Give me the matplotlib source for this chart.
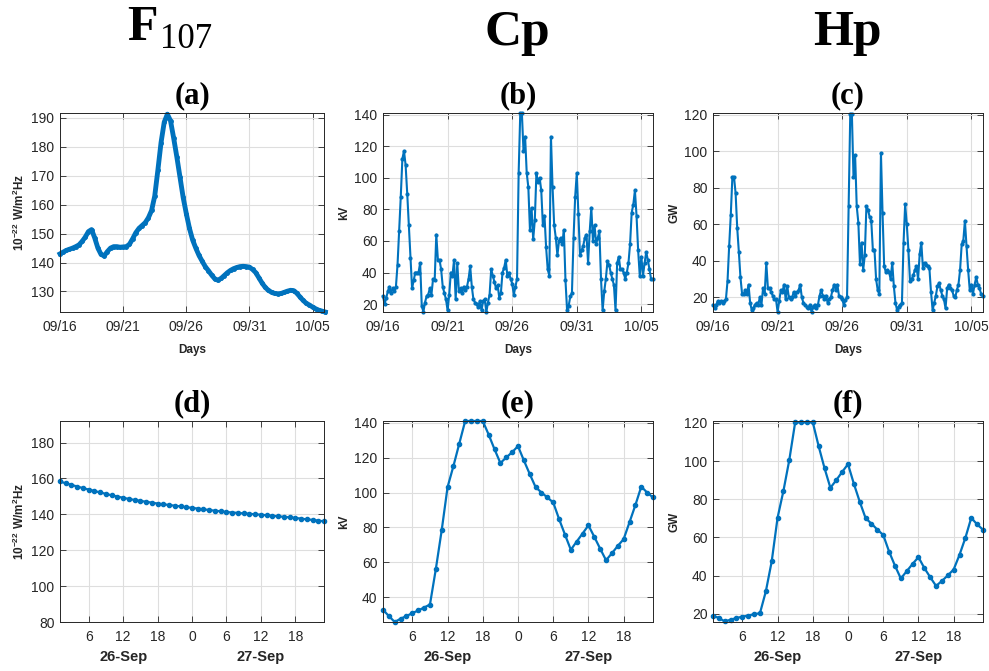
import matplotlib
matplotlib.use('Agg')
import matplotlib.pyplot as plt
import matplotlib.transforms as mtransforms
import numpy as np

plt.rcParams['font.family'] = ['Liberation Sans', 'DejaVu Sans']
plt.rcParams['mathtext.fontset'] = 'custom'
plt.rcParams['mathtext.rm'] = 'Liberation Sans'
plt.rcParams['mathtext.bf'] = 'Liberation Sans:bold'

# ---- top row: 09/16 .. 10/06, days since 09/16 00:00 ----
f107_days = np.arange(0, 21.01, 0.25)
f107_vals = [143.0, 143.6, 144.2, 144.6, 145.0, 145.5, 146.1, 147.3,
             148.8, 150.7, 151.4, 148.5, 145.0, 142.8, 142.3, 143.8,
             145.0, 145.5, 145.5, 145.3, 145.4, 145.5, 146.3, 148.2,
             150.3, 151.8, 152.8, 153.8, 155.5, 158.0, 163.0, 172.0,
             181.5, 188.5, 191.3, 189.0, 183.0, 176.5, 169.5, 162.5,
             156.9, 151.8, 147.8, 145.0, 142.5, 140.5, 138.6, 137.2,
             135.7, 134.4, 133.9, 134.5, 135.5, 136.5, 137.3, 137.9,
             138.3, 138.6, 138.7, 138.6, 138.4, 137.6, 136.5, 134.7,
             132.9, 131.4, 130.4, 129.7, 129.3, 129.2, 129.3, 129.7,
             130.1, 130.4, 130.3, 129.4, 128.1, 126.9, 125.9, 125.3,
             124.6, 124.0, 123.5, 123.2, 122.9]

idx_days = np.arange(0, 21, 0.125)
cp_vals = [25, 20, 24, 28, 31, 27, 30, 28,
           31, 45, 66, 88, 112, 117, 108, 90,
           70, 49, 30, 35, 40, 40, 40, 46,
           19, 15, 21, 25, 26, 30, 26, 36,
           35, 64, 48, 48, 42, 31, 27, 23,
           16, 26, 40, 38, 48, 23, 46, 28,
           30, 27, 31, 29, 31, 36, 44, 31,
           23, 21, 20, 18, 22, 16, 22, 23,
           15, 21, 26, 42, 38, 34, 30, 32,
           24, 27, 40, 43, 48, 38, 40, 36,
           33, 26, 31, 36, 103, 141, 141, 117,
           126, 103, 94, 67, 81, 61, 73, 103,
           97, 100, 92, 70, 76, 56, 42, 38,
           126, 94, 70, 62, 51, 60, 62, 58,
           67, 35, 16, 19, 25, 27, 62, 88,
           103, 77, 51, 54, 57, 62, 64, 46,
           66, 81, 60, 70, 58, 62, 66, 36,
           16, 28, 36, 47, 45, 40, 36, 32,
           16, 46, 50, 42, 42, 40, 36, 40,
           46, 58, 78, 83, 92, 76, 54, 38,
           50, 38, 46, 53, 48, 42, 36, 36]
hp_vals = [16, 14, 16, 18, 17, 18, 17, 18,
           19, 29, 48, 65, 86, 86, 77, 58,
           45, 31, 22, 22, 24, 22, 27, 17,
           13, 14, 16, 17, 16, 20, 16, 25,
           22, 39, 25, 25, 23, 21, 19, 19,
           12, 18, 24, 23, 27, 19, 26, 20,
           19, 20, 23, 21, 23, 24, 27, 20,
           17, 16, 15, 14, 16, 12, 15, 16,
           14, 16, 21, 24, 21, 19, 21, 17,
           19, 20, 24, 27, 24, 27, 21, 20,
           19, 16, 18.5, 20, 70, 120.5, 120.5, 86,
           98, 70, 61, 38.5, 50, 35, 43, 70,
           68, 64, 62, 46, 46, 30, 24, 22,
           99, 66, 37, 34, 35, 34, 30, 39,
           26, 17, 13, 15, 16, 17, 50, 71,
           60, 46, 29, 30, 32, 35, 37, 30,
           44, 50, 36, 39, 38, 37, 36, 23,
           13, 17, 21, 26, 28, 24, 21, 19,
           14, 25, 27, 25, 24, 21, 20, 24,
           27, 35, 49, 51, 62, 48, 35, 24,
           27, 22, 27, 31, 27, 25, 22, 21]
top_ticks = [0, 5, 10, 15, 20]
top_labels = ['09/16', '09/21', '09/26', '09/31', '10/05']

# ---- bottom row: 26-Sep .. 27-Sep, hourly ----
hours = np.arange(1, 48)
f107_zoom = [158.3, 157.3, 156.4, 155.5, 154.6, 153.8,
             153.0, 152.2, 151.4, 150.6, 149.9, 149.2,
             148.6, 148.0, 147.5, 147.0, 146.5, 146.0,
             145.6, 145.2, 144.8, 144.4, 144.0, 143.6,
             143.2, 142.8, 142.4, 142.0, 141.7, 141.3,
             141.0, 140.8, 140.5, 140.3, 140.0, 139.8,
             139.5, 139.2, 138.9, 138.6, 138.3, 138.0,
             137.6, 137.2, 136.9, 136.5, 136.1]
cp_zoom = [32.8, 29.2, 25.8, 27.7, 29.2, 30.9, 32.4, 34.1, 35.8,
           56.1, 78.4, 103.1, 115.2, 128.1, 141, 141, 141, 141,
           133.2, 124.8, 116.9, 120.1, 123.1, 126.6,
           118.4, 110.6, 103.1, 100, 97.2, 94.3,
           84.8, 75.9, 67.2, 71.9, 76.5, 81.2,
           74.6, 67.8, 61.2, 65.2, 69.4, 73.3,
           83, 92.8, 103.4, 100, 97.2]
hp_zoom = [19.1, 17.8, 16, 16.9, 17.8, 18.5, 19.1, 19.8, 20.3,
           31.7, 47.4, 70.3, 84.4, 100.6, 120.3, 120.3, 120.3, 120.3,
           107.8, 96.3, 86, 90, 94.3, 98.4,
           88.1, 78.7, 70.1, 67.2, 64.1, 61.3,
           52.6, 45.2, 38.5, 42.3, 46.1, 49.7,
           44, 39.2, 34.6, 37.2, 40.1, 43.2,
           50.9, 59.8, 70.3, 66.8, 64.1]
hour_ticks = [6, 12, 18, 24, 30, 36, 42]
hour_labels = ['6', '12', '18', '0', '6', '12', '18']
day_pos = [12, 36]
day_labels = ['26-Sep', '27-Sep']

blue = '#0072BD'
W, H = 989, 671
fig = plt.figure(figsize=(W / 100, H / 100), dpi=100)


def add_ax(left, top, w, h):
    return fig.add_axes([left / W, 1 - (top + h) / H, w / W, h / H])


def style(ax):
    ax.tick_params(direction='in', top=True, right=True, length=4, width=0.6,
                   labelsize=10, colors='#262626', pad=4)
    ax.tick_params(axis='x', pad=6)
    ax.grid(True, color='#dedede', linewidth=0.8)
    ax.set_axisbelow(True)
    for s in ax.spines.values():
        s.set_color('#262626')
        s.set_linewidth(0.7)


f107_label = r'$\mathbf{10^{-22}\ W/m^{2}Hz}$'
lab_kw = dict(fontsize=8.5, fontweight='bold', color='#262626')
title_kw = dict(fontsize=22, fontweight='bold', family='Liberation Serif', pad=7)

lefts = [60, 383, 713]
widths = [264, 270, 270]

# top row
top_series = [(f107_days, f107_vals, (122.9, 191.7), range(130, 191, 10), f107_label, '(a)', 3.5, 5),
              (idx_days, cp_vals, (15, 141), range(20, 141, 20), 'kV', '(b)', 1.5, 4),
              (idx_days, hp_vals, (12, 121), range(20, 121, 20), 'GW', '(c)', 1.5, 4)]
for i, (x, y, yl, yt, ylab, ttl, lw, ms) in enumerate(top_series):
    ax = add_ax(lefts[i], 113, widths[i], 199)
    style(ax)
    ax.plot(x, y, '-', color=blue, lw=lw, marker='.', ms=ms, clip_on=False)
    ax.set_xlim(0, 20.9)
    ax.set_ylim(*yl)
    ax.set_yticks(list(yt))
    ax.set_xticks(top_ticks)
    ax.set_xticklabels(top_labels)
    ax.set_xlabel('Days', labelpad=7, **lab_kw)
    ax.set_ylabel(ylab, labelpad=3, **lab_kw)
    ax.set_title(ttl, **title_kw)

# bottom row
bot_series = [(f107_zoom, (80, 192), range(80, 181, 20), f107_label, '(d)'),
              (cp_zoom, (25.8, 141), range(40, 141, 20), 'kV', '(e)'),
              (hp_zoom, (15.7, 121), range(20, 121, 20), 'GW', '(f)')]
for i, (y, yl, yt, ylab, ttl) in enumerate(bot_series):
    ax = add_ax(lefts[i], 421, widths[i], 201)
    style(ax)
    ax.plot(hours, y, '-', color=blue, lw=1.6, marker='.', ms=6, clip_on=False)
    ax.set_xlim(1, 47)
    ax.set_ylim(*yl)
    ax.set_yticks(list(yt))
    ax.set_xticks(hour_ticks)
    ax.set_xticklabels(hour_labels)
    ax.set_ylabel(ylab, labelpad=3, **lab_kw)
    ax.set_title(ttl, **title_kw)
    trans = mtransforms.blended_transform_factory(ax.transData, ax.transAxes)
    for p, t in zip(day_pos, day_labels):
        ax.text(p, -0.175, t, transform=trans, ha='center', va='center',
                fontsize=10.5, fontweight='bold', color='#262626')

# column headers
fig.text(127 / W, 1 - 40 / H, 'F', fontsize=36, fontweight='bold',
         family='Liberation Serif', va='baseline', ha='left')
fig.text(160 / W, 1 - 48 / H, '107', fontsize=25, family='Liberation Serif',
         va='baseline', ha='left')
fig.text(517 / W, 1 - 45 / H, 'Cp', fontsize=37, fontweight='bold',
         family='Liberation Serif', va='baseline', ha='center')
fig.text(847 / W, 1 - 45 / H, 'Hp', fontsize=37, fontweight='bold',
         family='Liberation Serif', va='baseline', ha='center')

fig.savefig('out.png', dpi=100)
